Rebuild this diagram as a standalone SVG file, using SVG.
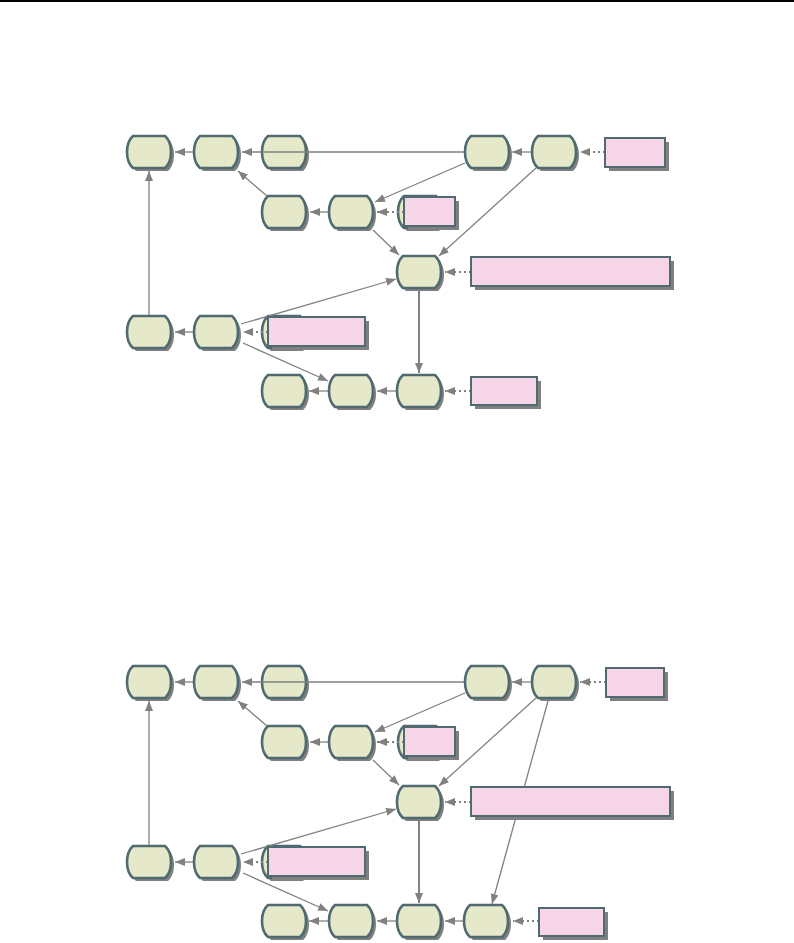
<svg xmlns="http://www.w3.org/2000/svg" xmlns:xlink="http://www.w3.org/1999/xlink" width="794" height="943" viewBox="0 0 794 943">
<style>
.nd{fill:#e6e9c9;stroke:#4f6a70;stroke-width:2.6}
.sh{fill:#808080}
.e{stroke:#808080;stroke-width:1.3;fill:none;marker-end:url(#ah)}
.ev{stroke:#808080;stroke-width:2;fill:none;marker-end:url(#ah)}
.d{stroke:#808080;stroke-width:2;fill:none;stroke-dasharray:2 3;marker-end:url(#ah)}
.nt{fill:#f6d6e6;stroke:#4f6a70;stroke-width:2}
</style>
<defs>
<path id="np" d="M-16,-16 H16 C24,-9 24,9 16,16 H-16 C-24,9 -24,-9 -16,-16 Z"/>
<marker id="ah" markerUnits="userSpaceOnUse" markerWidth="10" markerHeight="8" refX="10" refY="4" orient="auto" viewBox="0 0 10 8">
<path d="M0,0 L10,4 L0,8 Z" fill="#808080"/>
</marker>
</defs>
<rect x="0" y="0" width="794" height="2" fill="#000"/>

<!-- ===== Top diagram ===== -->
<g id="top-nodes">
<g id="t-r1c1" transform="translate(149,152)"><use href="#np" class="sh" x="3" y="3"/><use href="#np" class="nd"/></g>
<g id="t-r1c2" transform="translate(216,152)"><use href="#np" class="sh" x="3" y="3"/><use href="#np" class="nd"/></g>
<g id="t-r1c3" transform="translate(284,152)"><use href="#np" class="sh" x="3" y="3"/><use href="#np" class="nd"/></g>
<g id="t-r1c6" transform="translate(487,152)"><use href="#np" class="sh" x="3" y="3"/><use href="#np" class="nd"/></g>
<g id="t-r1c7" transform="translate(554,152)"><use href="#np" class="sh" x="3" y="3"/><use href="#np" class="nd"/></g>
<g id="t-r2c3" transform="translate(284,212)"><use href="#np" class="sh" x="3" y="3"/><use href="#np" class="nd"/></g>
<g id="t-r2c4" transform="translate(351,212)"><use href="#np" class="sh" x="3" y="3"/><use href="#np" class="nd"/></g>
<g id="t-r2c5" transform="translate(420,212)"><use href="#np" class="sh" x="3" y="3"/><use href="#np" class="nd"/></g>
<g id="t-r3c5" transform="translate(419,272)"><use href="#np" class="sh" x="3" y="3"/><use href="#np" class="nd"/></g>
<g id="t-r4c1" transform="translate(149,332)"><use href="#np" class="sh" x="3" y="3"/><use href="#np" class="nd"/></g>
<g id="t-r4c2" transform="translate(216,332)"><use href="#np" class="sh" x="3" y="3"/><use href="#np" class="nd"/></g>
<g id="t-r4c3" transform="translate(284,332)"><use href="#np" class="sh" x="3" y="3"/><use href="#np" class="nd"/></g>
<g id="t-r5c3" transform="translate(284,391)"><use href="#np" class="sh" x="3" y="3"/><use href="#np" class="nd"/></g>
<g id="t-r5c4" transform="translate(351,391)"><use href="#np" class="sh" x="3" y="3"/><use href="#np" class="nd"/></g>
<g id="t-r5c5" transform="translate(419,391)"><use href="#np" class="sh" x="3" y="3"/><use href="#np" class="nd"/></g>
</g>

<g id="top-connectors">
<line class="e" x1="193" y1="152" x2="175" y2="152"/>
<line class="e" x1="464" y1="152" x2="242" y2="152"/>
<line class="e" x1="531" y1="152" x2="512" y2="152"/>
<line class="d" x1="605" y1="152" x2="580" y2="152"/>
<line class="e" x1="465" y1="163" x2="375" y2="202"/>
<line class="e" x1="536" y1="168" x2="439" y2="256"/>
<line class="e" x1="267" y1="196" x2="238" y2="171"/>
<line class="e" x1="328" y1="212" x2="310" y2="212"/>
<line class="d" x1="404" y1="212" x2="377" y2="212"/>
<line class="e" x1="373" y1="230" x2="399" y2="255"/>
<line class="d" x1="471" y1="272" x2="445" y2="272"/>
<line class="ev" x1="419" y1="289" x2="419" y2="373"/>
<line class="e" x1="241" y1="324" x2="396" y2="279"/>
<line class="e" x1="193" y1="332" x2="175" y2="332"/>
<line class="e" x1="149" y1="315" x2="149" y2="171"/>
<line class="d" x1="268" y1="332" x2="243" y2="332"/>
<line class="e" x1="243" y1="343" x2="328" y2="381"/>
<line class="e" x1="396" y1="391" x2="377" y2="391"/>
<line class="e" x1="328" y1="391" x2="309" y2="391"/>
<line class="d" x1="471" y1="391" x2="445" y2="391"/>
</g>

<g id="top-notes">
<g id="t-n1"><rect x="609" y="142" width="60" height="29" class="sh"/><rect x="605" y="138" width="60" height="29" class="nt"/></g>
<g id="t-n2"><rect x="408" y="201" width="51" height="29" class="sh"/><rect x="404" y="197" width="51" height="29" class="nt"/></g>
<g id="t-n3"><rect x="475" y="261" width="199" height="29" class="sh"/><rect x="471" y="257" width="199" height="29" class="nt"/></g>
<g id="t-n4"><rect x="272" y="321" width="97" height="29" class="sh"/><rect x="268" y="317" width="97" height="29" class="nt"/></g>
<g id="t-n5"><rect x="475" y="381" width="66" height="28" class="sh"/><rect x="471" y="377" width="66" height="28" class="nt"/></g>
</g>

<!-- ===== Bottom diagram ===== -->
<g id="bottom-nodes">
<g id="b-r1c1" transform="translate(149,682)"><use href="#np" class="sh" x="3" y="3"/><use href="#np" class="nd"/></g>
<g id="b-r1c2" transform="translate(216,682)"><use href="#np" class="sh" x="3" y="3"/><use href="#np" class="nd"/></g>
<g id="b-r1c3" transform="translate(284,682)"><use href="#np" class="sh" x="3" y="3"/><use href="#np" class="nd"/></g>
<g id="b-r1c6" transform="translate(487,682)"><use href="#np" class="sh" x="3" y="3"/><use href="#np" class="nd"/></g>
<g id="b-r1c7" transform="translate(554,682)"><use href="#np" class="sh" x="3" y="3"/><use href="#np" class="nd"/></g>
<g id="b-r2c3" transform="translate(284,742)"><use href="#np" class="sh" x="3" y="3"/><use href="#np" class="nd"/></g>
<g id="b-r2c4" transform="translate(351,742)"><use href="#np" class="sh" x="3" y="3"/><use href="#np" class="nd"/></g>
<g id="b-r2c5" transform="translate(420,742)"><use href="#np" class="sh" x="3" y="3"/><use href="#np" class="nd"/></g>
<g id="b-r3c5" transform="translate(419,802)"><use href="#np" class="sh" x="3" y="3"/><use href="#np" class="nd"/></g>
<g id="b-r4c1" transform="translate(149,862)"><use href="#np" class="sh" x="3" y="3"/><use href="#np" class="nd"/></g>
<g id="b-r4c2" transform="translate(216,862)"><use href="#np" class="sh" x="3" y="3"/><use href="#np" class="nd"/></g>
<g id="b-r4c3" transform="translate(284,862)"><use href="#np" class="sh" x="3" y="3"/><use href="#np" class="nd"/></g>
<g id="b-r5c3" transform="translate(284,921)"><use href="#np" class="sh" x="3" y="3"/><use href="#np" class="nd"/></g>
<g id="b-r5c4" transform="translate(351,921)"><use href="#np" class="sh" x="3" y="3"/><use href="#np" class="nd"/></g>
<g id="b-r5c5" transform="translate(419,921)"><use href="#np" class="sh" x="3" y="3"/><use href="#np" class="nd"/></g>
<g id="b-r5c6" transform="translate(486,921)"><use href="#np" class="sh" x="3" y="3"/><use href="#np" class="nd"/></g>
</g>

<g id="bottom-connectors">
<line class="e" x1="193" y1="682" x2="175" y2="682"/>
<line class="e" x1="464" y1="682" x2="242" y2="682"/>
<line class="e" x1="531" y1="682" x2="512" y2="682"/>
<line class="d" x1="606" y1="682" x2="580" y2="682"/>
<line class="e" x1="465" y1="693" x2="375" y2="732"/>
<line class="e" x1="536" y1="698" x2="439" y2="786"/>
<line class="e" x1="548" y1="701" x2="492" y2="904"/>
<line class="e" x1="267" y1="726" x2="238" y2="701"/>
<line class="e" x1="328" y1="742" x2="310" y2="742"/>
<line class="d" x1="404" y1="742" x2="377" y2="742"/>
<line class="e" x1="373" y1="760" x2="399" y2="785"/>
<line class="d" x1="471" y1="802" x2="445" y2="802"/>
<line class="ev" x1="419" y1="819" x2="419" y2="903"/>
<line class="e" x1="241" y1="854" x2="396" y2="809"/>
<line class="e" x1="193" y1="862" x2="175" y2="862"/>
<line class="e" x1="149" y1="845" x2="149" y2="701"/>
<line class="d" x1="268" y1="862" x2="243" y2="862"/>
<line class="e" x1="243" y1="873" x2="328" y2="911"/>
<line class="e" x1="463" y1="921" x2="445" y2="921"/>
<line class="e" x1="396" y1="921" x2="377" y2="921"/>
<line class="e" x1="328" y1="921" x2="309" y2="921"/>
<line class="d" x1="539" y1="921" x2="513" y2="921"/>
</g>

<g id="bottom-notes">
<g id="b-n1"><rect x="610" y="672" width="58" height="29" class="sh"/><rect x="606" y="668" width="58" height="29" class="nt"/></g>
<g id="b-n2"><rect x="408" y="731" width="51" height="29" class="sh"/><rect x="404" y="727" width="51" height="29" class="nt"/></g>
<g id="b-n3"><rect x="475" y="791" width="199" height="29" class="sh"/><rect x="471" y="787" width="199" height="29" class="nt"/></g>
<g id="b-n4"><rect x="272" y="851" width="97" height="29" class="sh"/><rect x="268" y="847" width="97" height="29" class="nt"/></g>
<g id="b-n6"><rect x="543" y="912" width="65" height="28" class="sh"/><rect x="539" y="908" width="65" height="28" class="nt"/></g>
</g>
</svg>
